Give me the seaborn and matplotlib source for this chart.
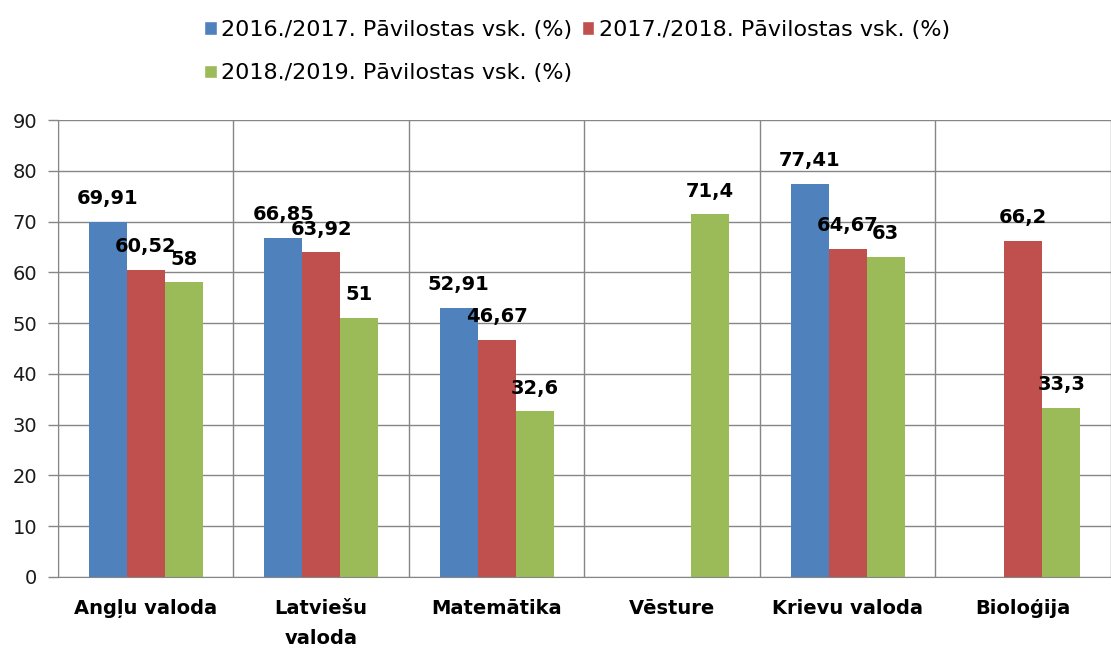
import pandas as pd
import numpy as np
import matplotlib
matplotlib.use('Agg')
import matplotlib.pyplot as plt
import seaborn as sns
from matplotlib.ticker import FixedLocator
from matplotlib.patches import Patch

# data
subjects = ['Angļu valoda', 'Latviešu valoda', 'Matemātika', 'Vēsture',
            'Krievu valoda', 'Bioloģija']
tick_labels = ['Angļu valoda', 'Latviešu\nvaloda', 'Matemātika', 'Vēsture',
               'Krievu valoda', 'Bioloģija']
series = ['2016./2017. Pāvilostas vsk. (%)',
          '2017./2018. Pāvilostas vsk. (%)',
          '2018./2019. Pāvilostas vsk. (%)']
y2017 = [69.91, 66.85, 52.91, np.nan, 77.41, np.nan]
y2018 = [60.52, 63.92, 46.67, np.nan, 64.67, 66.2]
y2019 = [58, 51, 32.6, 71.4, 63, 33.3]
colors = ['#4F81BD', '#C0504D', '#9BBB59']

rows = []
for s, vals in zip(series, [y2017, y2018, y2019]):
    for subj, v in zip(subjects, vals):
        rows.append({'subject': subj, 'series': s, 'value': v})
df = pd.DataFrame(rows)

sns.set_style('white')
plt.rcParams['font.family'] = ['DejaVu Sans']

fig = plt.figure(figsize=(11.11, 6.53), dpi=100)
ax = fig.add_axes([0.0522, 0.1164, 0.9478, 0.6998])

sns.barplot(data=df, x='subject', y='value', hue='series', order=subjects,
            hue_order=series, palette=colors, width=0.65, gap=0,
            saturation=1, linewidth=0, ax=ax, legend=False, errorbar=None)

# data labels with comma decimals
for cont in ax.containers:
    labs = []
    for bar in cont:
        h = bar.get_height()
        labs.append('' if np.isnan(h) else f'{h:g}'.replace('.', ','))
    ax.bar_label(cont, labels=labs, padding=10, fontsize=14,
                 fontweight='bold', color='black')

ax.set_ylim(0, 90)
ax.set_xlim(-0.5, len(subjects) - 0.5)
ax.set_yticks(range(0, 91, 10))
ax.set_xticks(range(len(subjects)))
ax.set_xticklabels(tick_labels, fontsize=14, fontweight='bold',
                   color='black', linespacing=1.75, va='top')
ax.xaxis.set_minor_locator(FixedLocator(np.arange(-0.5, len(subjects), 1)))
ax.tick_params(axis='x', which='major', length=0, pad=16)
ax.tick_params(axis='x', which='minor', length=9, color='#868686', width=1)
ax.tick_params(axis='y', length=7, color='#868686', width=1, labelsize=14,
               labelcolor='#1a1a1a', left=True, pad=8)
ax.grid(axis='y', color='#868686', linewidth=1)
ax.grid(axis='x', which='minor', color='#868686', linewidth=1)
ax.set_axisbelow(True)
ax.set_xlabel('')
ax.set_ylabel('')
for side in ['top', 'right']:
    ax.spines[side].set_visible(False)
for side in ['left', 'bottom']:
    ax.spines[side].set_color('#868686')

# legend: two rows, left aligned
handles = [Patch(facecolor=c, label=s) for c, s in zip(colors, series)]
order = [0, 2, 1]
fig.legend([handles[i] for i in order], [series[i] for i in order],
           ncol=2, loc='upper left', bbox_to_anchor=(0.166, 1.0),
           frameon=False, fontsize=16, handlelength=0.55, handleheight=0.55,
           handletextpad=0.2, columnspacing=0.45, labelspacing=1.05,
           labelcolor='black')

plt.savefig('out.png', dpi=100)
